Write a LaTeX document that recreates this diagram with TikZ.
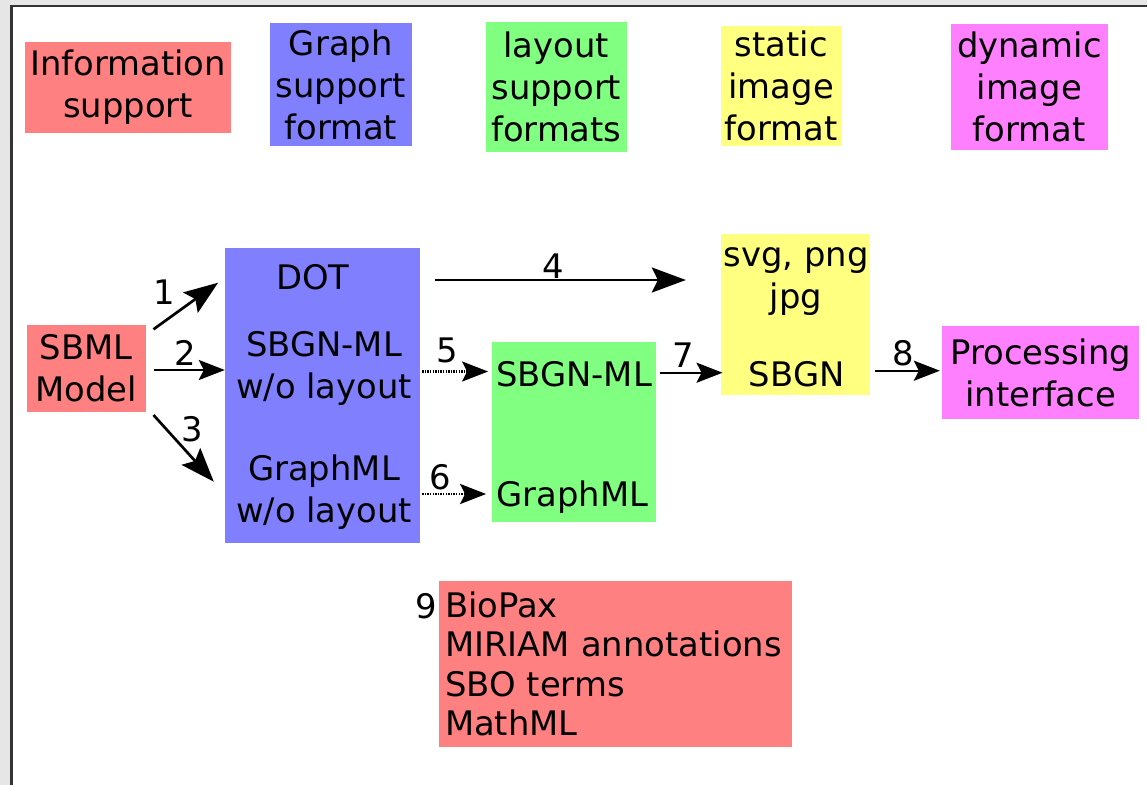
\documentclass[tikz,border=0pt]{standalone}
\usepackage{fontspec}
\setmainfont{DejaVu Sans}
\usetikzlibrary{arrows.meta,calc}
\definecolor{cred}{HTML}{FF8080}
\definecolor{cblue}{HTML}{8080FF}
\definecolor{cgreen}{HTML}{80FF80}
\definecolor{cyellow}{HTML}{FFFF80}
\definecolor{cmagenta}{HTML}{FF80FF}
\definecolor{framegray}{HTML}{E6E6E6}
\definecolor{framedark}{HTML}{333333}
\begin{document}
\begin{tikzpicture}[x=1pt,y=-1pt,
  txt/.style={font=\fontsize{33.8}{42}\selectfont, inner sep=0pt, align=center, text=black},
  colbox/.style={txt, fill=#1},
  plainbox/.style={fill=#1, inner sep=0pt},
  bigarrow/.style={line width=2.7pt, -{Stealth[length=34pt,width=25pt,inset=6pt]}},
  smallarrow/.style={line width=2.4pt, -{Stealth[length=26pt,width=20pt,inset=5pt]}},
  dotarrow/.style={smallarrow, dash pattern=on 1.3pt off 1.3pt}
]
\useasboundingbox (0,0) rectangle (1147,785);
\fill[framegray] (0,0) rectangle (1147,785);
\fill[white] (11,6) rectangle (1147,785);
\draw[line width=2.5pt, framedark] (11.3,785) -- (11.3,6.2) -- (1147,6.2);

% legend
\node[colbox=cred, minimum width=206pt, minimum height=90.5pt] (leginfo) at (128,87.5) {Information\\support};
\node[colbox=cblue, minimum width=141.7pt, minimum height=123pt] (leggraph) at (340.8,84.5) {Graph\\support\\format};
\node[colbox=cgreen, minimum width=140.7pt, minimum height=130pt] (leglayout) at (556.3,87) {layout\\support\\formats};
\node[colbox=cyellow, minimum width=121pt, minimum height=120pt] (legstatic) at (781.2,86) {static\\image\\format};
\node[colbox=cmagenta, minimum width=157.3pt, minimum height=126pt] (legdynamic) at (1029.3,87) {dynamic\\image\\format};

% main boxes
\node[colbox=cred, minimum width=119pt, minimum height=86.7pt] (sbml) at (86.2,368.3) {SBML\\Model};
\node[plainbox=cblue, minimum width=195pt, minimum height=295pt] (blue) at (322.5,395.5) {};
\node[plainbox=cgreen, minimum width=163.4pt, minimum height=179.7pt] (green) at (574,431.9) {};
\node[plainbox=cyellow, minimum width=149.3pt, minimum height=161pt] (yellow) at (795.4,314.5) {};
\node[colbox=cmagenta, minimum width=196.7pt, minimum height=93pt] (proc) at (1040.7,372.5) {Processing\\interface};
\node[plainbox=cred, txt, font=\fontsize{33.8}{39.5}\selectfont, align=left, text width=341.3pt, inner xsep=6pt, inner ysep=0pt, minimum height=165.7pt] (info) at (615.7,663.9) {BioPax\\MIRIAM annotations\\SBO terms\\MathML};
\node[txt] (nine) at (425.8,606) {9};

% texts inside boxes
\node[txt] (dot) at (313,277) {DOT};
\node[txt] (sbgnwo) at (324,368) {SBGN-ML\\w/o layout};
\node[txt] (graphmlwo) at (324,492) {GraphML\\w/o layout};
\node[txt] (sbgnml) at (574,374) {SBGN-ML};
\node[txt] (graphml) at (572.5,497) {GraphML};
\node[txt] (svg) at (796,282) {svg, png\\jpg};
\node[txt] (sbgn) at (796.7,374) {SBGN};

% connectors
\draw[bigarrow] ($(sbml.east)+(7.6,-39)$) -- ($(blue.west)+(-6.7,-112.8)$) node[txt] at (164,292.5) {1};
\draw[smallarrow] ($(sbml.east)+(7.6,1.7)$) -- ($(blue.west)+(0,-25.5)$) node[txt] at (185,352.5) {2};
\draw[bigarrow] ($(sbml.east)+(7.6,46.7)$) -- ($(blue.west)+(-11,86.2)$) node[txt] at (192.5,429) {3};
\draw[bigarrow] ($(blue.east)+(15,-115.5)$) -- ($(yellow.west)+(-34.7,-34.5)$) node[txt] at (553,265.8) {4};
\draw[dotarrow] ($(blue.east)+(2,-24)$) -- ($(green.west)+(-4,-60.4)$) node[txt] at (447.5,350.8) {5};
\draw[dotarrow] ($(blue.east)+(2,98.5)$) -- ($(green.west)+(-6,62.1)$) node[txt] at (440,477.5) {6};
\draw[smallarrow] ($(green.east)+(3.6,-59.2)$) -- ($(yellow.west)+(2,58.2)$) node[txt] at (683,355) {7};
\draw[smallarrow] ($(yellow.east)+(5,56.2)$) -- ($(proc.west)+(-2.3,-1.8)$) node[txt] at (903,353) {8};
\end{tikzpicture}
\end{document}
